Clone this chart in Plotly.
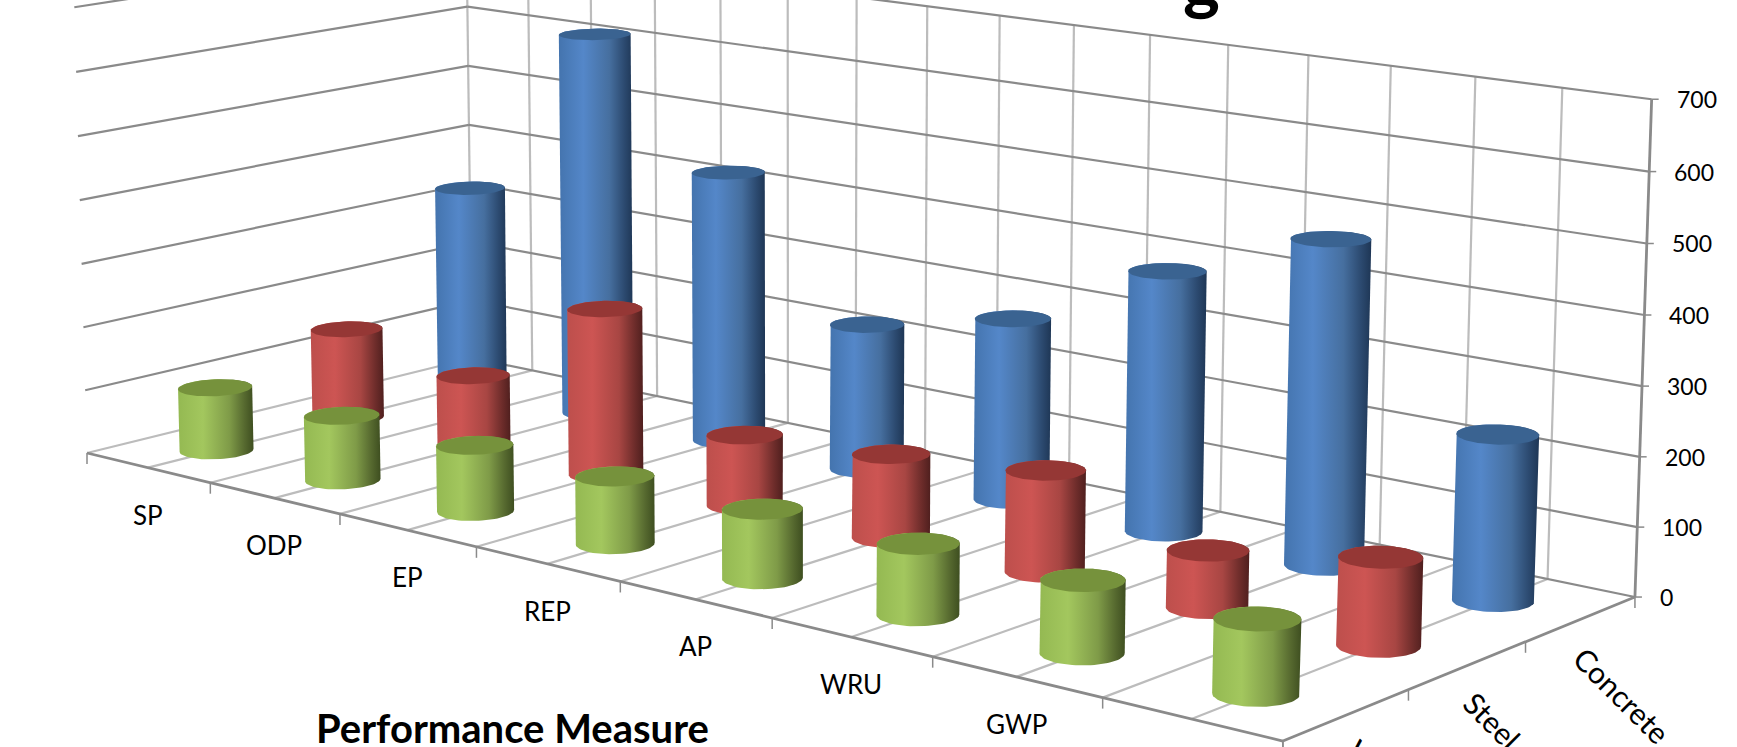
import numpy as np
import plotly.graph_objects as go

# ---------- data ----------
categories = ["SP", "ODP", "EP", "REP", "AP", "WRU", "GWP", ""]
series_names = ["Wood", "Steel", "Concrete"]      # front to back
wood = [100, 100, 100, 100, 100, 100, 100, 100]
steel = [144, 111, 258, 107, 124, 147, 81, 122]
concrete = [331, 615, 427, 226, 276, 387, 472, 236]
value_ticks = [0, 100, 200, 300, 400, 500, 600, 700]
x_title = "Performance Measure"

W, H = 1737, 747
FONT = "Lato"
DARK, LIGHT = "#8a8a8a", "#bcbcbc"

# ---------- the chart's 3D camera ----------
# Plotly's WebGL scene has a fixed wide lens, so this long-lens view is projected here:
# (category position, series position, value/100) -> coordinates on ordinary linear axes.
P = np.array([[118.2, 142.07, -2.0, 87.0],
              [17.93, -21.24, -63.7, 453.0],
              [-0.02439, 0.02913, -0.0025, 1.0]])

def proj(x, y, z):
    x, y, z = np.broadcast_arrays(np.asarray(x, float), np.asarray(y, float), np.asarray(z, float) / 100)
    h = P @ np.array([x, y, z, np.ones_like(x)])
    return h[0] / h[2], h[1] / h[2]

def hull(pts):
    pts = sorted(set(map(tuple, np.round(pts, 2))))
    def half(seq):
        out = []
        for p in seq:
            while len(out) > 1 and (out[-1][0]-out[-2][0])*(p[1]-out[-2][1]) - (out[-1][1]-out[-2][1])*(p[0]-out[-2][0]) <= 0:
                out.pop()
            out.append(p)
        return out[:-1]
    return np.array(half(pts) + half(pts[::-1]))

fig = go.Figure()

def add_lines(segments, color, width):
    xs, ys = [], []
    for (a, b) in segments:
        ua, va = proj(*a); ub, vb = proj(*b)
        xs += [float(ua), float(ub), None]; ys += [float(va), float(vb), None]
    fig.add_trace(go.Scatter(x=xs, y=ys, mode="lines", line=dict(color=color, width=width),
                             hoverinfo="skip", showlegend=False))

def add_ticks(points, dx, dy, color, width):
    xs, ys = [], []
    for a in points:
        u, v = proj(*a)
        xs += [float(u), float(u) + dx, None]; ys += [float(v), float(v) + dy, None]
    fig.add_trace(go.Scatter(x=xs, y=ys, mode="lines", line=dict(color=color, width=width),
                             hoverinfo="skip", showlegend=False))

n_cat, n_ser, vmax = len(categories), len(series_names), value_ticks[-1]
half_steps = np.arange(0, n_cat, 0.5)

# light grid: back-wall verticals and floor lines, every half category
add_lines([((i, n_ser, 0), (i, n_ser, vmax)) for i in half_steps], LIGHT, 2.2)
add_lines([((i, 0, 0), (i, n_ser, 0)) for i in half_steps], LIGHT, 2.2)
# dark grid: level lines on both walls
add_lines([((0, 0, z), (0, n_ser, z)) for z in value_ticks[1:]], DARK, 2.2)
add_lines([((0, n_ser, z), (n_cat, n_ser, z)) for z in value_ticks], DARK, 2.2)
# axes
add_lines([((0, 0, 0), (n_cat, 0, 0)), ((n_cat, 0, 0), (n_cat, n_ser, 0)),
           ((n_cat, n_ser, 0), (n_cat, n_ser, vmax))], DARK, 2.8)
add_ticks([(i, 0, 0) for i in range(n_cat + 1)], 0, 11, DARK, 1.5)
add_ticks([(n_cat, j, 0) for j in range(n_ser + 1)], 0, 11, DARK, 1.5)
add_ticks([(n_cat, n_ser, z) for z in value_ticks], 7, 0, DARK, 1.5)

# cylinders
RX, RY = 0.1975, 0.2054
theta = np.linspace(0, 2 * np.pi, 73)
styles = {
    "Concrete": dict(values=concrete, top="#3a6391",
                     scale=[[0, "#4474ae"], [0.33, "#5487c9"], [0.68, "#466f9f"], [0.88, "#2c4a70"], [1, "#1e3655"]]),
    "Steel": dict(values=steel, top="#953735",
                  scale=[[0, "#bd4f4c"], [0.33, "#cd5553"], [0.68, "#a84643"], [0.88, "#6f2d2b"], [1, "#4f1f1e"]]),
    "Wood": dict(values=wood, top="#76923c",
                 scale=[[0, "#94b952"], [0.33, "#a3c75e"], [0.68, "#7f9b48"], [0.88, "#56692f"], [1, "#3e4e20"]]),
}
for j in range(n_ser - 1, -1, -1):
    name = series_names[j]
    st = styles[name]
    for i, val in enumerate(st["values"]):
        cx, cy = i + 0.5, j + 0.5
        bx = cx + RX * np.cos(theta); by = cy + RY * np.sin(theta)
        ub, vb = proj(bx, by, 0)
        ut, vt = proj(bx, by, val)
        shape = hull(np.c_[np.r_[ub, ut], np.r_[vb, vt]])
        fig.add_trace(go.Scatter(
            x=np.r_[shape[:, 0], shape[0, 0]], y=np.r_[shape[:, 1], shape[0, 1]], mode="lines", fill="toself",
            line=dict(width=0, color=st["scale"][1][1]),
            fillgradient=dict(type="horizontal", colorscale=st["scale"],
                              start=float(shape[:, 0].min()), stop=float(shape[:, 0].max())),
            name=name, text=f"{categories[i]}: {val}", hoverinfo="text", showlegend=False))
        fig.add_trace(go.Scatter(x=ut, y=vt, mode="lines", fill="toself", fillcolor=st["top"],
                                 line=dict(width=0, color=st["top"]), hoverinfo="skip", showlegend=False))

def px_note(text, x, y, size, **kw):
    return dict(text=text, x=float(x) / W, y=1 - float(y) / H, xref="paper", yref="paper", showarrow=False,
                font=dict(family=FONT, size=size, color="#000000"), borderpad=0, borderwidth=0,
                **{"xanchor": "center", "yanchor": "middle", **kw})

notes = []
for i, c in enumerate(categories):
    if c:
        u, v = proj(i + 0.5, 0, 0)
        notes.append(px_note(c, u, v + 47, 26))
for z in value_ticks:
    u, v = proj(n_cat, n_ser, z)
    notes.append(px_note(str(z), u + 25, v, 23, xanchor="left"))
for name, (cx, cy) in zip(series_names, [(1381, 773), (1492, 720), (1622, 695)]):
    notes.append(px_note(name, cx, cy, 30, textangle=45))
notes.append(px_note(f"<b>{x_title}</b>", 512, 728, 40))
notes.append(px_note("<b>g</b>", 1201, 20.5, 70, yanchor="bottom"))

fig.update_layout(
    width=W, height=H, margin=dict(l=0, r=0, t=0, b=0), paper_bgcolor="white", plot_bgcolor="white",
    showlegend=False, annotations=notes, hovermode="closest",
    xaxis=dict(range=[0, W], visible=False, fixedrange=True),
    yaxis=dict(range=[H, 0], visible=False, fixedrange=True),
)
fig.write_html("out.html", config={"displayModeBar": False},
               post_script="document.body.style.margin='0';document.documentElement.style.overflow='hidden';")
